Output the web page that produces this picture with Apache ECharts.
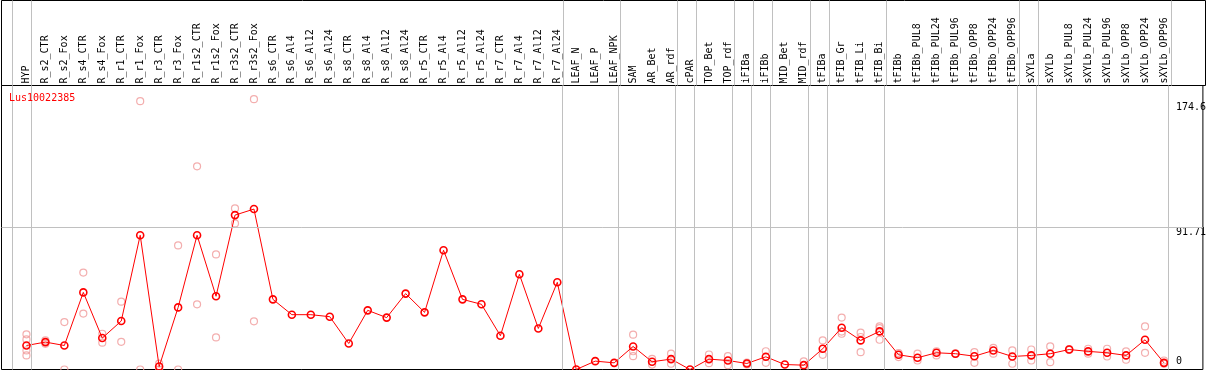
<!DOCTYPE html>
<html>
<head>
<meta charset="utf-8">
<script src="https://cdn.jsdelivr.net/npm/echarts@6/dist/echarts.min.js"></script>
<style>
    html, body { margin: 0; padding: 0; background: #fff; }
    #expression-chart-container { width: 1209px; height: 370px; }
</style>
</head>
<body>
<div id="expression-chart-container"></div>
<script>
var geneName = 'Lus10022385';

var categories = [
    'HYP', 'R_s2_CTR', 'R_s2_Fox', 'R_s4_CTR', 'R_s4_Fox', 'R_r1_CTR', 'R_r1_Fox', 'R_r3_CTR', 'R_r3_Fox',
    'R_r1s2_CTR', 'R_r1s2_Fox', 'R_r3s2_CTR', 'R_r3s2_Fox', 'R_s6_CTR', 'R_s6_Al4', 'R_s6_Al12', 'R_s6_Al24',
    'R_s8_CTR', 'R_s8_Al4', 'R_s8_Al12', 'R_s8_Al24', 'R_r5_CTR', 'R_r5_Al4', 'R_r5_Al12', 'R_r5_Al24',
    'R_r7_CTR', 'R_r7_Al4', 'R_r7_Al12', 'R_r7_Al24', 'LEAF_N', 'LEAF_P', 'LEAF_NPK', 'SAM', 'AR_Bet', 'AR_rdf',
    'cPAR', 'TOP_Bet', 'TOP_rdf', 'iFIBa', 'iFIBb', 'MID_Bet', 'MID_rdf', 'tFIBa', 'tFIB_Gr', 'tFIB_Li', 'tFIB_Bi',
    'tFIBb', 'tFIBb_PUL8', 'tFIBb_PUL24', 'tFIBb_PUL96', 'tFIBb_OPP8', 'tFIBb_OPP24', 'tFIBb_OPP96',
    'sXYLa', 'sXYLb', 'sXYLb_PUL8', 'sXYLb_PUL24', 'sXYLb_PUL96', 'sXYLb_OPP8', 'sXYLb_OPP24', 'sXYLb_OPP96'
];

// mean expression per sample
var means = [
    15.5, 17.7, 15.5, 49.8, 20.3, 31.3, 86.7, 1.9, 40.1,
    86.7, 47.3, 99.7, 103.6, 45.3, 35.4, 35.4, 34.1,
    16.8, 38.2, 33.5, 49.0, 36.9, 77.0, 45.3, 42.1,
    21.8, 61.5, 26.5, 56.3, 0, 5.4, 4.3, 14.9, 5.0, 6.7,
    0, 6.7, 5.8, 3.9, 8.2, 3.2, 2.8, 13.4, 27.0, 18.8, 24.6,
    9.5, 7.6, 10.8, 10.2, 8.6, 12.3, 8.4,
    9.1, 10.2, 12.9, 11.7, 10.8, 9.1, 19.2, 4.3
];

// individual replicates per sample
var replicates = [
    [22.7, 19.4, 12.3, 9.1], [18.8, 16.6], [30.6, 0], [62.6, 36.1], [23.1, 17.3], [43.8, 17.9], [173.3, 0], [3.8, 0], [80.1, 0],
    [131.2, 42.1], [74.3, 20.7], [104.0, 94.3], [174.6, 31.1], [], [], [], [],
    [], [], [], [], [], [], [], [],
    [], [], [], [], [], [], [], [22.5, 11.8, 8.6], [6.9, 3.2], [10.2, 3.7],
    [], [9.7, 4.1], [8.6, 2.8], [4.5, 3.3], [11.8, 4.3], [], [5.2, 0.5], [18.8, 9.5], [33.5, 23.1, 24.5], [23.8, 11.2, 21.0], [26.7, 19.2, 27.9],
    [8.0, 10.6], [10.2, 5.8], [11.8, 9.1], [10.4, 10.0], [11.2, 4.3], [14.0, 10.2], [12.3, 3.7],
    [12.9, 5.8], [14.9, 4.7], [13.2, 12.6], [13.4, 10.2], [13.4, 8.4], [11.7, 6.3], [27.8, 10.8], [5.8, 3.7]
];

// sample index after which a group separator is drawn
var groupEnds = [-1, 0, 28, 31, 34, 35, 37, 38, 39, 41, 42, 45, 52, 53, 60];
var yLabelValues = [0, 91.71, 174.6];
var refLineValue = 91.71;

var EXP_ExpressionPlot = function () {
    var _drawChart = function () {
        var dom = document.getElementById('expression-chart-container');
        var myChart = echarts.init(dom, null, { renderer: 'canvas' });
        var font = "'DejaVu Sans Mono', monospace";

        var meanData = [];
        var repData = [];
        var labelIdx = [];
        for (var i = 0; i < categories.length; i++) {
            meanData.push([i, means[i]]);
            labelIdx.push(i);
            for (var j = 0; j < replicates[i].length; j++) {
                repData.push([i, replicates[i][j]]);
            }
        }
        var sepLines = [];
        for (var k = 0; k < groupEnds.length; k++) {
            sepLines.push({ xAxis: groupEnds[k] + 0.237 });
        }
        var plotSepLines = sepLines.concat([{ yAxis: refLineValue }]);

        var xMin = -25 / 19, xMax = 1179 / 19;

        var option = {
            backgroundColor: '#fff',
            animation: false,
            title: {
                text: geneName,
                left: 9,
                top: 93,
                padding: 0,
                textStyle: { color: '#ff0000', fontFamily: font, fontSize: 10, fontWeight: 'normal' }
            },
            grid: [
                { left: 1.5, right: 3.5, top: 85.5, bottom: 0.5, show: true, borderColor: '#000', borderWidth: 1, backgroundColor: 'transparent' },
                { left: 1.5, right: 3.5, top: 0.5, height: 85, show: true, borderColor: '#000', borderWidth: 1, backgroundColor: 'transparent' }
            ],
            xAxis: [
                {
                    type: 'value', gridIndex: 0, position: 'top', min: xMin, max: xMax,
                    axisLine: { show: false }, axisTick: { show: false }, splitLine: { show: false },
                    axisLabel: {
                        customValues: labelIdx,
                        rotate: 90,
                        margin: 2,
                        color: '#000',
                        fontFamily: font,
                        fontSize: 10,
                        formatter: function (v) { return categories[Math.round(v)]; }
                    }
                },
                { type: 'value', gridIndex: 1, min: xMin, max: xMax, show: false }
            ],
            yAxis: [
                {
                    type: 'value', gridIndex: 0, position: 'right', min: 0, max: 183.4,
                    axisLine: { show: false }, axisTick: { show: false }, splitLine: { show: false },
                    axisLabel: {
                        customValues: yLabelValues,
                        inside: true,
                        margin: 27,
                        align: 'left',
                        color: '#000',
                        fontFamily: font,
                        fontSize: 10,
                        formatter: function (v) {
                            if (v === 0) return '{lo|0}';
                            if (v > 100) return '{hi|' + v + '}';
                            return '{mid|' + v + '}';
                        },
                        rich: {
                            lo: { padding: [0, 0, 16, 0], fontFamily: font, fontSize: 10, color: '#000' },
                            mid: { padding: [10, 0, 0, 0], fontFamily: font, fontSize: 10, color: '#000' },
                            hi: { padding: [16, 0, 0, 0], fontFamily: font, fontSize: 10, color: '#000' }
                        }
                    }
                },
                { type: 'value', gridIndex: 1, min: 0, max: 1, show: false }
            ],
            series: [
                {
                    name: 'separators', type: 'line', xAxisIndex: 0, yAxisIndex: 0, data: [], z: 1,
                    markLine: {
                        silent: true, symbol: 'none', label: { show: false },
                        lineStyle: { color: '#c0c0c0', width: 1, type: 'solid' },
                        data: plotSepLines
                    }
                },
                {
                    name: 'headSeparators', type: 'line', xAxisIndex: 1, yAxisIndex: 1, data: [], z: 1,
                    markLine: {
                        silent: true, symbol: 'none', label: { show: false },
                        lineStyle: { color: '#c0c0c0', width: 1, type: 'solid' },
                        data: sepLines
                    }
                },
                {
                    name: 'replicates', type: 'scatter', xAxisIndex: 0, yAxisIndex: 0, z: 3,
                    symbol: 'circle', symbolSize: 7,
                    itemStyle: { color: 'rgba(0,0,0,0)', borderColor: '#f09a9a', borderWidth: 1.2 },
                    data: repData
                },
                {
                    name: 'mean', type: 'line', xAxisIndex: 0, yAxisIndex: 0, z: 4,
                    symbol: 'circle', symbolSize: 7, showAllSymbol: true,
                    lineStyle: { color: '#ff0000', width: 1 },
                    itemStyle: { color: 'rgba(0,0,0,0)', borderColor: '#ff0000', borderWidth: 1.6 },
                    data: meanData
                }
            ]
        };

        if (option && typeof option === 'object') {
            myChart.setOption(option);
        }
        window.addEventListener('resize', function () {
            myChart.resize();
        });
    };

    return {
        init: function () {
            _drawChart();
        }
    };
}();

document.addEventListener('DOMContentLoaded', function () {
    EXP_ExpressionPlot.init();
});
</script>
</body>
</html>
